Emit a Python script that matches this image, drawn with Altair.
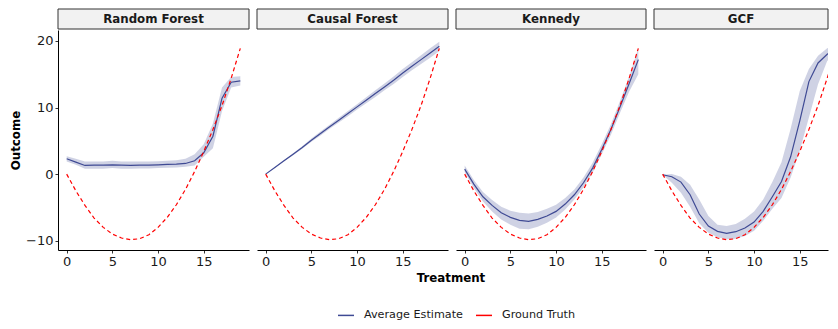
import altair as alt
import pandas as pd

treatment = list(range(20))
methods = ["Random Forest", "Causal Forest", "Kennedy", "GCF"]
series_names = ["Average Estimate", "Ground Truth"]

ground_truth = [0.0, -2.5, -4.7, -6.6, -8.0, -9.0, -9.6, -9.85, -9.7, -9.1,
                -8.0, -6.5, -4.6, -2.3, 0.4, 3.4, 6.7, 10.3, 14.4, 18.9]

estimate = {
    "Random Forest": [2.3, 1.8, 1.3, 1.35, 1.35, 1.4, 1.35, 1.3, 1.35, 1.35,
                      1.4, 1.45, 1.5, 1.6, 2.0, 3.2, 5.7, 11.4, 13.8, 14.0],
    "Causal Forest": [0.0, 1.0, 2.0, 3.0, 4.0, 5.1, 6.1, 7.1, 8.1, 9.1,
                      10.1, 11.1, 12.1, 13.1, 14.1, 15.2, 16.2, 17.2, 18.2, 19.2],
    "Kennedy": [0.75, -1.5, -3.4, -4.7, -5.8, -6.5, -6.95, -7.1, -6.8, -6.3,
                -5.6, -4.5, -3.1, -1.3, 0.9, 3.7, 6.7, 10.1, 13.6, 17.2],
    "GCF": [-0.1, -0.4, -1.2, -3.1, -6.0, -7.8, -8.6, -8.9, -8.65, -8.1,
            -7.2, -5.6, -3.4, -1.1, 2.6, 8.0, 13.9, 16.7, 18.0, 18.8],
}
lower = {
    "Random Forest": [1.9, 1.4, 0.8, 0.8, 0.8, 0.9, 0.8, 0.8, 0.85, 0.85,
                      0.9, 0.95, 1.0, 1.1, 1.3, 2.6, 3.9, 9.5, 13.0, 13.3],
    "Causal Forest": [0.0, 0.95, 1.9, 2.85, 3.8, 4.85, 5.8, 6.8, 7.75, 8.7,
                      9.7, 10.65, 11.6, 12.6, 13.55, 14.6, 15.6, 16.55, 17.5, 18.5],
    "Kennedy": [0.3, -2.1, -4.1, -5.6, -6.8, -7.6, -8.2, -8.3, -7.9, -7.3,
                -6.5, -5.3, -3.8, -2.0, 0.2, 3.0, 5.9, 9.2, 12.4, 15.0],
    "GCF": [-0.1, -1.3, -2.8, -4.9, -7.4, -8.8, -9.5, -9.8, -9.7, -9.3,
            -8.5, -7.0, -5.2, -3.6, -0.5, 3.5, 8.5, 13.5, 17.0, 18.3],
}
upper = {
    "Random Forest": [2.7, 2.3, 1.9, 1.9, 1.9, 2.0, 1.9, 1.9, 1.9, 1.9,
                      1.95, 2.0, 2.1, 2.3, 3.0, 4.5, 7.6, 13.0, 14.6, 14.7],
    "Causal Forest": [0.0, 1.05, 2.1, 3.15, 4.2, 5.35, 6.4, 7.4, 8.45, 9.5,
                      10.5, 11.55, 12.6, 13.6, 14.65, 15.8, 16.8, 17.85, 18.9, 19.9],
    "Kennedy": [1.3, -0.9, -2.7, -3.9, -4.9, -5.5, -5.8, -5.9, -5.7, -5.2,
                -4.6, -3.6, -2.3, -0.5, 1.7, 4.5, 7.5, 11.0, 14.7, 18.9],
    "GCF": [-0.1, 0.0, -0.4, -1.6, -3.8, -6.3, -7.6, -7.8, -7.5, -6.7,
            -5.6, -3.8, -1.2, 1.8, 6.8, 12.5, 15.8, 17.8, 18.9, 19.5],
}

BLUE = "#3F4A94"
RED = "#FF0000"
H = 220
WIDTHS = [191, 191, 190, 174]
FONT = "DejaVu Sans"
PX_PER_UNIT = 191 / 20.9

ys = alt.Scale(domain=[-11.4, 21.65], nice=False, zero=False)
color_scale = alt.Scale(domain=series_names, range=[BLUE, RED])
legend = alt.Legend(
    title=None, orient="none", direction="horizontal",
    legendX=279, legendY=276,
    symbolType="stroke", symbolSize=256, symbolStrokeWidth=1.5,
    labelFontSize=11.2, labelFont=FONT, labelColor="#1a1a1a",
    columnPadding=10, labelOffset=9,
)


def panel(i, m):
    W = WIDTHS[i]
    xs = alt.Scale(domain=[-0.95, -0.95 + W / PX_PER_UNIT], nice=False, zero=False)
    est_df = pd.DataFrame({"treatment": treatment, "value": estimate[m],
                           "series": ["Average Estimate"] * len(treatment)})
    gt_df = pd.DataFrame({"treatment": treatment, "value": ground_truth,
                          "series": ["Ground Truth"] * len(treatment)})
    band_df = pd.DataFrame({"treatment": treatment, "lower": lower[m], "upper": upper[m]})
    strip_df = pd.DataFrame({"method": [m]})

    xaxis = alt.Axis(title=None, values=[0, 5, 10, 15], grid=False)
    if i == 0:
        yaxis = alt.Axis(title="Outcome", values=[-10, 0, 10, 20], grid=False)
    else:
        yaxis = None

    band = alt.Chart(band_df).mark_area(color=BLUE, opacity=0.25, clip=True).encode(
        x=alt.X("treatment:Q", scale=xs, axis=xaxis),
        y=alt.Y("lower:Q", scale=ys, axis=yaxis),
        y2="upper:Q",
    )
    est = alt.Chart(est_df).mark_line(strokeWidth=1.2, clip=True).encode(
        x=alt.X("treatment:Q", scale=xs, axis=xaxis),
        y=alt.Y("value:Q", scale=ys, axis=yaxis),
        color=alt.Color("series:N", scale=color_scale, legend=legend),
    )
    gt = alt.Chart(gt_df).mark_line(strokeWidth=1.2, strokeDash=[4, 3], clip=True).encode(
        x=alt.X("treatment:Q", scale=xs, axis=xaxis),
        y=alt.Y("value:Q", scale=ys, axis=yaxis),
        color=alt.Color("series:N", scale=color_scale, legend=legend),
    )
    rect = alt.Chart(strip_df).mark_rect(fill="#F2F2F2", stroke="#333333", strokeWidth=1).encode(
        x=alt.value(0), x2=alt.value(W), y=alt.value(-21), y2=alt.value(-1)
    )
    txt = alt.Chart(strip_df).mark_text(
        font=FONT, fontSize=11.8, fontWeight="bold", color="#1a1a1a", baseline="middle"
    ).encode(text="method:N", x=alt.value(W / 2), y=alt.value(-11))
    layers = [band, est, gt, rect, txt]
    if i == 1:
        tdf = pd.DataFrame({"label": ["Treatment"]})
        ttl = alt.Chart(tdf).mark_text(
            font=FONT, fontSize=11.8, fontWeight="bold", color="#000000", baseline="middle"
        ).encode(text="label:N", x=alt.value(W + 3), y=alt.value(248))
        layers.append(ttl)
    return alt.layer(*layers).properties(width=W, height=H)


chart = alt.hconcat(
    *[panel(i, m) for i, m in enumerate(methods)], spacing=8, bounds="flush"
).properties(
    padding={"left": 2, "top": 0, "right": 0, "bottom": 0}
).configure_view(stroke=None).configure_axis(
    domainColor="#000000", tickColor="#333333", labelColor="#1a1a1a",
    labelFont=FONT, labelFontSize=13, tickSize=3, labelPadding=2,
    titleFont=FONT, titleFontSize=11.8, titleFontWeight="bold", titleColor="#000000",
    titlePadding=4, domainWidth=1,
)

chart.save("out.html", embed_options={"renderer": "svg", "actions": False})
